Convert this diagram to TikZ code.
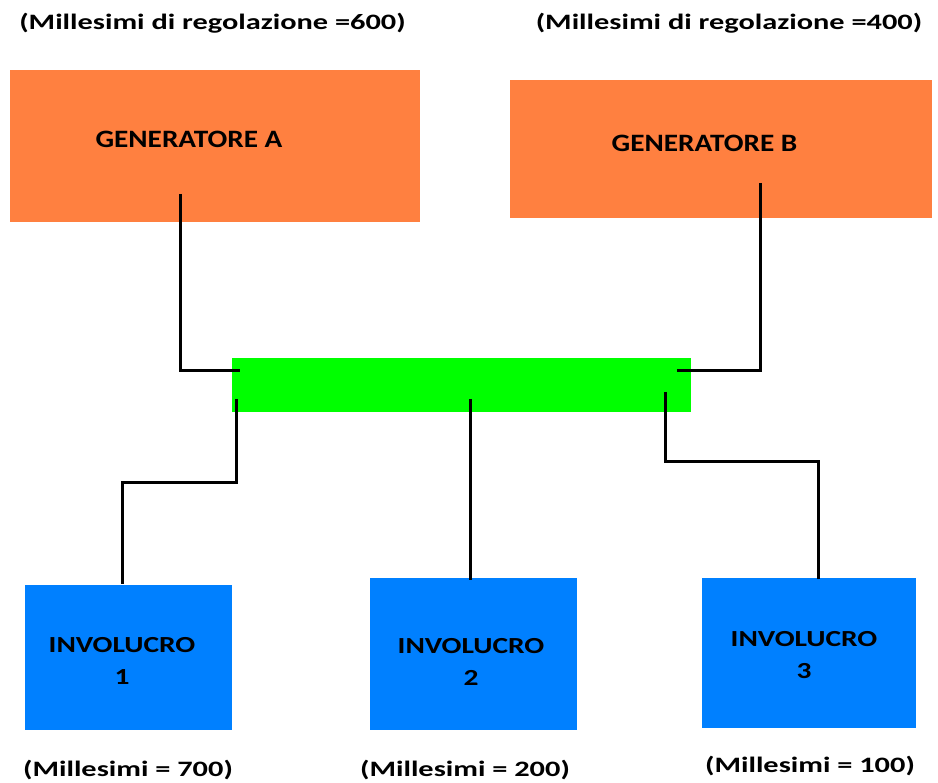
\documentclass[tikz,border=0pt]{standalone}
\usepackage{fontspec}
\setmainfont{Carlito}
\usepackage{tikz}
\definecolor{genorange}{RGB}{255,128,64}
\definecolor{busgreen}{RGB}{0,255,0}
\definecolor{invblue}{RGB}{0,128,255}

\begin{document}
\begin{tikzpicture}[x=1pt,y=-1pt,
    genbox/.style={fill=genorange,draw=none,inner sep=0pt},
    invbox/.style={fill=invblue,draw=none,inner sep=0pt},
    bus/.style={fill=busgreen,draw=none,inner sep=0pt},
    lbl/.style={font=\fontsize{22}{26}\selectfont\bfseries,inner sep=0pt,xscale=1.38,transform shape},
    gentxt/.style={font=\fontsize{25}{30}\selectfont\bfseries,inner sep=0pt,xscale=1.17,transform shape},
    invtxt/.style={font=\fontsize{23}{32}\selectfont\bfseries,inner sep=0pt,align=center,xscale=1.28,transform shape},
    wire/.style={line width=3pt,line join=miter}]
    \useasboundingbox (0,0) rectangle (938,783);

    \node[lbl] (millA) at (212.5,23) {(Millesimi di regolazione =600)};
    \node[lbl] (millB) at (729,23) {(Millesimi di regolazione =400)};

    \node[genbox,minimum width=410pt,minimum height=152pt] (genA) at (215,146) {};
    \node[genbox,minimum width=422pt,minimum height=138pt] (genB) at (721,149) {};
    \node[gentxt] (genAtxt) at (189,139) {GENERATORE A};
    \node[gentxt] (genBtxt) at (704.5,143) {GENERATORE B};

    \node[bus,minimum width=459pt,minimum height=54pt] (bar) at (461.5,385) {};

    \node[invbox,minimum width=207pt,minimum height=145pt] (inv1) at (128.5,657.5) {};
    \node[invbox,minimum width=207pt,minimum height=152pt] (inv2) at (473.5,654) {};
    \node[invbox,minimum width=214pt,minimum height=150pt] (inv3) at (809,653) {};
    \node[invtxt] (inv1txt) at (122,661) {INVOLUCRO\\1};
    \node[invtxt] (inv2txt) at (471,662) {INVOLUCRO\\2};
    \node[invtxt] (inv3txt) at (804,655) {INVOLUCRO\\3};

    \node[lbl] (mill1) at (128,770) {(Millesimi = 700)};
    \node[lbl] (mill2) at (465,770) {(Millesimi = 200)};
    \node[lbl] (mill3) at (810,766) {(Millesimi = 100)};

    \coordinate (aTop) at (180,194);
    \coordinate (aBus) at (240,371);
    \coordinate (bTop) at (760,183);
    \coordinate (bBus) at (677,371);
    \coordinate (c1Bus) at (236,399);
    \coordinate (c1Inv) at (122,584);
    \coordinate (c2Bus) at (470,399);
    \coordinate (c2Inv) at (470,580);
    \coordinate (c3Bus) at (665,392);
    \coordinate (c3Inv) at (818,579);

    \draw[wire] (aTop) |- (aBus);
    \draw[wire] (bTop) |- (bBus);
    \draw[wire] (c1Bus) -- (236,483) -| (c1Inv);
    \draw[wire] (c2Bus) -- (c2Inv);
    \draw[wire] (c3Bus) -- (665,462) -| (c3Inv);
\end{tikzpicture}
\end{document}
